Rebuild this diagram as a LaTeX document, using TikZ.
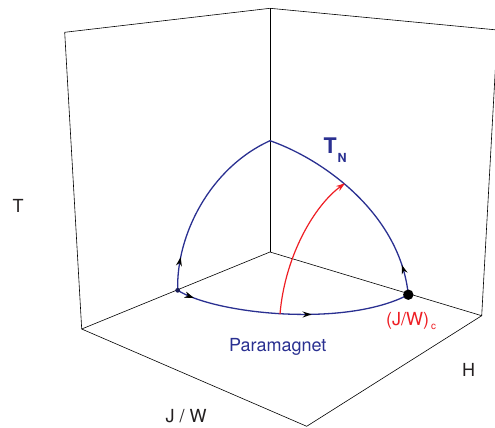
\documentclass[tikz,border=0pt]{standalone}
\usepackage{fontspec}
\setmainfont{TeX Gyre Heros}
\usetikzlibrary{arrows.meta,decorations.markings}
\definecolor{navy}{RGB}{42,48,145}
\definecolor{redc}{RGB}{238,30,36}
\definecolor{lbl}{RGB}{35,31,32}
\begin{document}
\begin{tikzpicture}[x=1pt,y=-1pt,
  edge/.style={line width=0.6pt, black},
  curve/.style={line width=1.3pt, navy},
  lab/.style={inner sep=0pt, anchor=base west, font=\fontsize{18}{20}\selectfont},
  tipmark/.style={postaction={decorate}, decoration={markings, mark=at position #1 with {\arrow{Stealth[length=9pt,width=6pt,black]}}}}]
\clip (0,0) rectangle (495,428);
% box corners
\coordinate (LT) at (64.7,32.3);
\coordinate (BT) at (270,8.3);
\coordinate (RT) at (497.5,30);
\coordinate (LB) at (81.7,329);
\coordinate (BB) at (270,252);
\coordinate (RB) at (481.7,315.7);
\coordinate (FB) at (306.7,426.3);
\draw[edge] (LT) -- (BT) -- (RT);
\draw[edge] (LT) -- (LB) -- (FB) -- (RB) -- (RT);
\draw[edge] (BT) -- (BB);
\draw[edge] (LB) -- (BB) -- (RB);
% curve points
\coordinate (P) at (177.7,290.3);
\coordinate (Top) at (270,140.7);
\coordinate (C) at (408.3,294.7);
\coordinate (R0) at (280,314);
\coordinate (R1) at (345,183.3);
\draw[curve, tipmark=0.18] (P) .. controls (176,235) and (210,168) .. (Top);
\draw[curve, tipmark=0.14] (C) .. controls (400,215) and (325,160) .. (Top);
\draw[curve, tipmark=0.075, postaction={decorate, decoration={markings, mark=at position 0.58 with {\arrow{Stealth[length=9pt,width=6pt,black]}}}}] (P) .. controls (215,314) and (345,328) .. (C);
\draw[line width=1.2pt, redc, -{Stealth[length=9pt,width=6pt]}] (R0) .. controls (285,255) and (315,205) .. (R1);
\fill[navy!60!black] (P) circle (2.4);
\fill[black] (C) circle (5.2);
% labels
\node[lab, text=lbl] (tT) at (12.5,212) {T};
\node[lab, text=lbl] (tJW) at (165.5,422) {J / W};
\node[lab, text=lbl] (tH) at (462,376.3) {H};
\node[lab, text=navy] (tPara) at (229,351.3) {Paramagnet};
\node[lab, text=redc] (tJWc) at (386,325) {(J/W)};
\node[inner sep=0pt, anchor=base west, text=redc, font=\fontsize{10}{12}\selectfont] (tc) at (tJWc.base east) [xshift=1.5pt, yshift=-4pt] {c};
\node[inner sep=0pt, anchor=base west, text=navy, font=\fontsize{21.5}{24}\selectfont\bfseries] (tTN) at (323.5,153.3) {T};
\node[inner sep=0pt, anchor=base west, text=navy, font=\fontsize{12.5}{14}\selectfont\bfseries] (tN) at (337.5,162.3) {N};
\end{tikzpicture}
\end{document}
